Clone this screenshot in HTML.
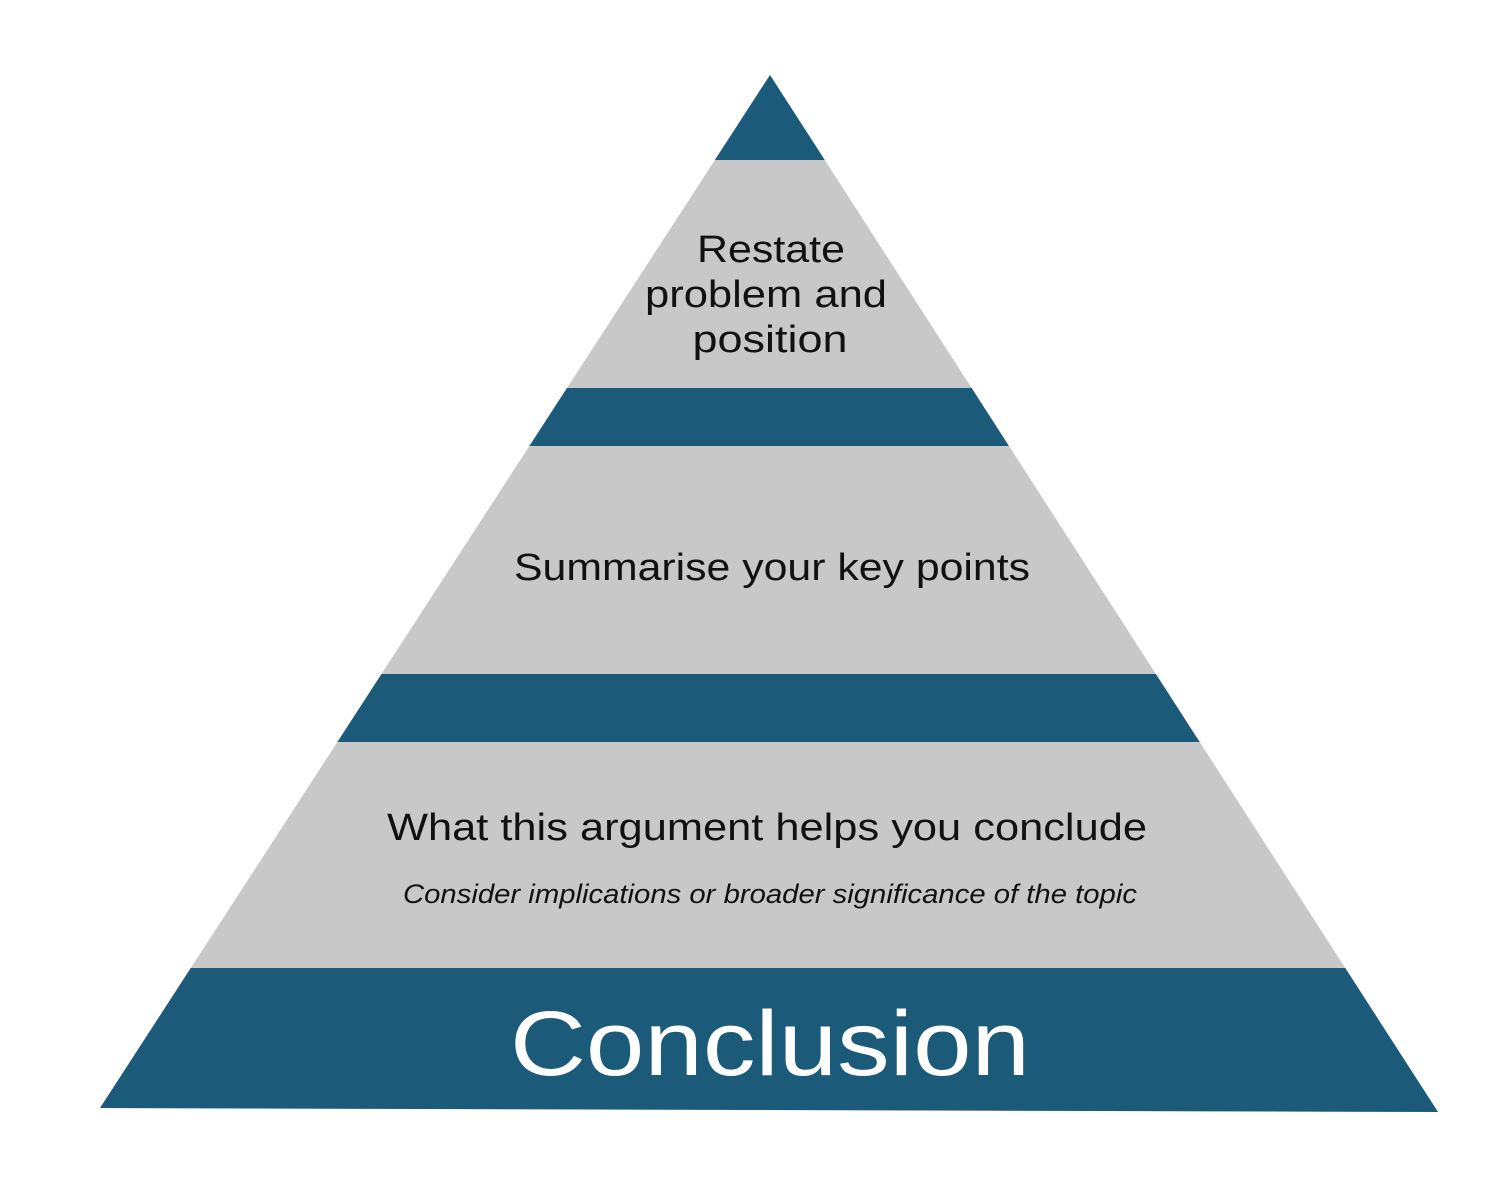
<!DOCTYPE html>
<html><head><style>html,body{margin:0;padding:0;background:#fff;}</style></head>
<body>
<svg width="1509" height="1193" viewBox="0 0 1509 1193" xmlns="http://www.w3.org/2000/svg">
<defs><clipPath id="p"><polygon points="770,75 1438,1112 100,1108"/></clipPath></defs>
<g clip-path="url(#p)">
<rect x="0" y="0" width="1509" height="1193" fill="#c8c8c8"/>
<rect x="0" y="60" width="1509" height="100" fill="#1c5a7a"/>
<rect x="0" y="388" width="1509" height="58" fill="#1c5a7a"/>
<rect x="0" y="674" width="1509" height="68" fill="#1c5a7a"/>
<rect x="0" y="968" width="1509" height="160" fill="#1c5a7a"/>
</g>
<g font-family="Liberation Sans, sans-serif" fill="#111" text-anchor="middle">
<text x="771" y="262" font-size="38" textLength="148" lengthAdjust="spacingAndGlyphs">Restate</text>
<text x="766" y="307" font-size="38" textLength="242" lengthAdjust="spacingAndGlyphs">problem and</text>
<text x="770" y="352" font-size="38" textLength="155" lengthAdjust="spacingAndGlyphs">position</text>
<text x="772" y="580" font-size="38" textLength="516" lengthAdjust="spacingAndGlyphs">Summarise your key points</text>
<text x="767" y="840" font-size="38" textLength="760" lengthAdjust="spacingAndGlyphs">What this argument helps you conclude</text>
<text x="770" y="903" font-size="27" font-style="italic" textLength="734" lengthAdjust="spacingAndGlyphs">Consider implications or broader significance of the topic</text>
<text x="770" y="1075" font-size="92" fill="#fff" textLength="520" lengthAdjust="spacingAndGlyphs">Conclusion</text>
</g>
</svg>
</body></html>
